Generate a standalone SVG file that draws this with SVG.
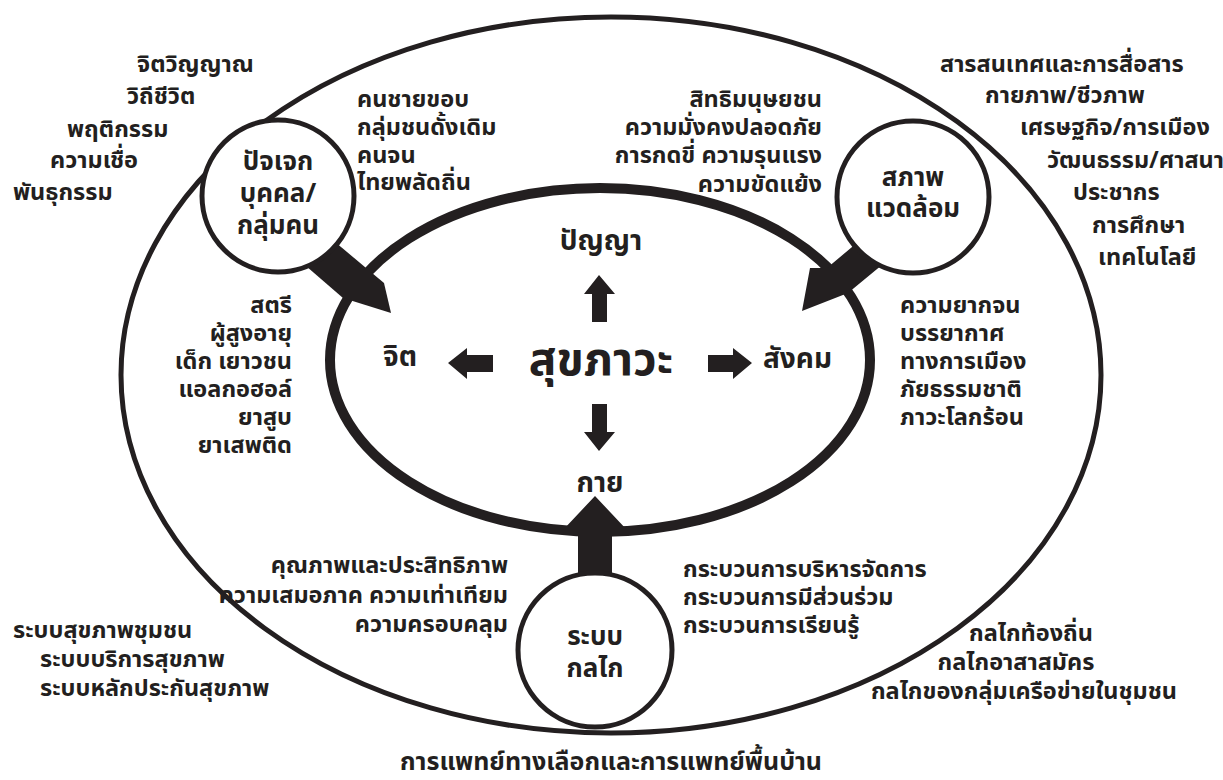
<svg xmlns="http://www.w3.org/2000/svg" width="1223" height="780" viewBox="0 0 1223 780">
<style>
text{font-family:'Noto Sans Thai','Noto Sans','DejaVu Sans',sans-serif;font-weight:bold;fill:#231f20;font-size:23.5px}
.big{font-size:46px}
.mid{font-size:28px}
.cir{font-size:26px}
.low{font-size:25px}
.thin{fill:none;stroke:#231f20;stroke-width:5}
.node{fill:#fff;stroke:#231f20;stroke-width:5}
.arr{fill:#231f20}
.e{text-anchor:end}.m{text-anchor:middle}
</style>
<rect width="1223" height="780" fill="#fff"/>
<g id="outer"><ellipse class="thin" cx="611" cy="375" rx="490" ry="358"/></g>
<g id="core">
<ellipse cx="600" cy="360" rx="270" ry="172" fill="none" stroke="#231f20" stroke-width="10"/>
</g>
<g id="connectors">
<polygon class="arr" points="310,221 384,283 391,313 343,298 284,247"/>
<polygon class="arr" points="883,221 827,268 810,268 802,311 848,293 911,241"/>
<polygon class="arr" points="595,496 627,530 612,530 612,590 578,590 578,530 563,530"/>
<polygon class="arr" points="599,275 615,294 607,294 607,322 592,322 592,294 584,294"/>
<polygon class="arr" points="448,363 467,348 467,355 493,355 493,372 467,372 467,379"/>
<polygon class="arr" points="752,363 733,348 733,355 708,355 708,372 733,372 733,379"/>
<polygon class="arr" points="599,451 615,432 607,432 607,404 592,404 592,432 584,432"/>
</g>
<g id="individual">
<circle class="node" cx="278" cy="196" r="76"/>
<text class="cir m" x="278" y="170">ปัจเจก</text>
<text class="cir m" x="278" y="202">บุคคล/</text>
<text class="cir m" x="278" y="234">กลุ่มคน</text>
</g>
<g id="environment">
<circle class="node" cx="913" cy="197" r="76"/>
<text class="cir m" x="913" y="186">สภาพ</text>
<text class="cir m" x="913" y="217">แวดล้อม</text>
</g>
<g id="system">
<circle class="node" cx="595" cy="650" r="77"/>
<text class="cir m" x="595" y="645">ระบบ</text>
<text class="cir m" x="595" y="677">กลไก</text>
</g>
<g id="wellbeing">
<text class="big m" x="601" y="375">สุขภาวะ</text>
<text class="mid m" x="601" y="250">ปัญญา</text>
<text class="mid m" x="400" y="366">จิต</text>
<text class="mid" x="763" y="368">สังคม</text>
<text class="mid m" x="600" y="492">กาย</text>
</g>
<g id="individual-factors">
<text x="137" y="72">จิตวิญญาณ</text>
<text x="127" y="104">วิถีชีวิต</text>
<text x="67" y="137">พฤติกรรม</text>
<text x="50" y="168">ความเชื่อ</text>
<text x="13" y="200">พันธุกรรม</text>
</g>
<g id="groups">
<text x="357" y="107">คนชายขอบ</text>
<text x="357" y="135">กลุ่มชนดั้งเดิม</text>
<text x="357" y="163">คนจน</text>
<text x="357" y="190">ไทยพลัดถิ่น</text>
</g>
<g id="rights">
<text class="e" x="822" y="107">สิทธิมนุษยชน</text>
<text class="e" x="822" y="135">ความมั่งคงปลอดภัย</text>
<text class="e" x="822" y="163">การกดขี่ ความรุนแรง</text>
<text class="e" x="822" y="192">ความขัดแย้ง</text>
</g>
<g id="environment-factors">
<text x="940" y="72">สารสนเทศและการสื่อสาร</text>
<text x="985" y="103">กายภาพ/ชีวภาพ</text>
<text x="1020" y="135">เศรษฐกิจ/การเมือง</text>
<text x="1047" y="168">วัฒนธรรม/ศาสนา</text>
<text x="1073" y="200">ประชากร</text>
<text x="1092" y="233">การศึกษา</text>
<text x="1098" y="265">เทคโนโลยี</text>
</g>
<g id="risks">
<text class="e" x="292" y="313">สตรี</text>
<text class="e" x="292" y="341">ผู้สูงอายุ</text>
<text class="e" x="292" y="369">เด็ก เยาวชน</text>
<text class="e" x="292" y="397">แอลกอฮอล์</text>
<text class="e" x="292" y="425">ยาสูบ</text>
<text class="e" x="292" y="453">ยาเสพติด</text>
</g>
<g id="social-factors">
<text x="900" y="313">ความยากจน</text>
<text x="900" y="341">บรรยากาศ</text>
<text x="900" y="369">ทางการเมือง</text>
<text x="900" y="397">ภัยธรรมชาติ</text>
<text x="900" y="425">ภาวะโลกร้อน</text>
</g>
<g id="quality">
<text class="e" x="508" y="573">คุณภาพและประสิทธิภาพ</text>
<text class="e" x="508" y="603">ความเสมอภาค ความเท่าเทียม</text>
<text class="e" x="508" y="632">ความครอบคลุม</text>
</g>
<g id="process">
<text x="683" y="577">กระบวนการบริหารจัดการ</text>
<text x="683" y="605">กระบวนการมีส่วนร่วม</text>
<text x="683" y="633">กระบวนการเรียนรู้</text>
</g>
<g id="health-systems">
<text x="13" y="638">ระบบสุขภาพชุมชน</text>
<text x="40" y="667">ระบบบริการสุขภาพ</text>
<text x="40" y="696">ระบบหลักประกันสุขภาพ</text>
</g>
<g id="mechanisms">
<text class="m" x="1031" y="641">กลไกท้องถิ่น</text>
<text class="m" x="1016" y="670">กลไกอาสาสมัคร</text>
<text class="m" x="1024" y="699">กลไกของกลุ่มเครือข่ายในชุมชน</text>
</g>
<g id="alternative">
<text class="low m" x="611" y="770">การแพทย์ทางเลือกและการแพทย์พื้นบ้าน</text>
</g>
</svg>
